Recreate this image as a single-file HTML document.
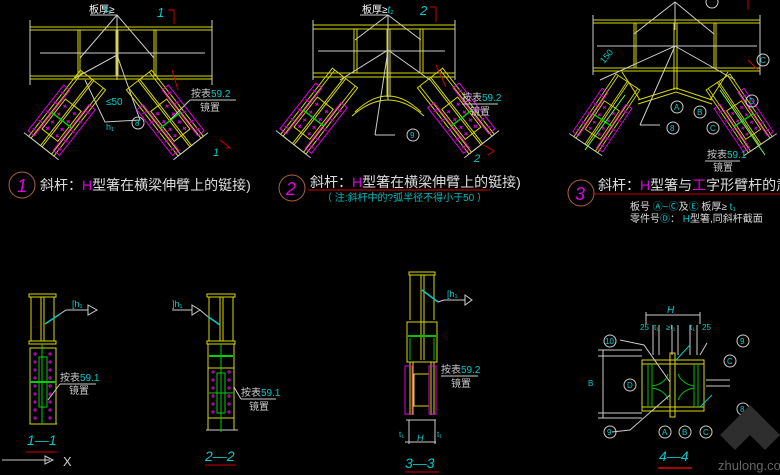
<!DOCTYPE html>
<html><head><meta charset="utf-8"><style>
html,body{margin:0;padding:0;background:#000;width:780px;height:475px;overflow:hidden}
svg{display:block}
text{font-family:"Liberation Sans","Noto Sans CJK SC",sans-serif}
</style></head><body>
<svg width="780" height="475" viewBox="0 0 780 475" xmlns="http://www.w3.org/2000/svg">
<defs>
<g id="brace">
 <rect x="0" y="-16" width="84" height="32" fill="none" stroke="#d8d800" stroke-width="1"/>
 <line x1="0" y1="-13" x2="84" y2="-13" stroke="#d8d800"/>
 <line x1="0" y1="13" x2="84" y2="13" stroke="#d8d800"/>
 <line x1="0" y1="-1" x2="84" y2="-1" stroke="#d8d800"/>
 <line x1="0" y1="1" x2="84" y2="1" stroke="#d8d800"/>
 <rect x="22" y="-20" width="58" height="8" fill="none" stroke="#e000e0"/>
 <rect x="22" y="12" width="58" height="8" fill="none" stroke="#e000e0"/>
 <rect x="32" y="-10" width="38" height="20" fill="none" stroke="#d8d800"/>
 <line x1="51" y1="-13" x2="51" y2="13" stroke="#00d000" stroke-width="1.5"/>
 <g stroke="#e000e0" stroke-width="1">
  <path d="M36 -6h4M38 -8v4M46 -6h4M48 -8v4M56 -6h4M58 -8v4M64 -6h4M66 -8v4M36 6h4M38 4v4M46 6h4M48 4v4M56 6h4M58 4v4M64 6h4M66 4v4"/>
  <path d="M27 -16h4M29 -18v4M39 -16h4M41 -18v4M51 -16h4M53 -18v4M63 -16h4M65 -18v4M73 -16h4M75 -18v4M27 16h4M29 14v4M39 16h4M41 14v4M51 16h4M53 14v4M63 16h4M65 14v4M73 16h4M75 14v4"/>
 </g>
 <line x1="84" y1="-22" x2="84" y2="22" stroke="#ccc"/>
</g>
</defs>

<!-- PANEL 1 -->
<g stroke="#d8d800" fill="none">
 <line x1="30" y1="27" x2="212" y2="27"/><line x1="30" y1="30" x2="212" y2="30"/>
 <line x1="30" y1="76" x2="212" y2="76"/><line x1="30" y1="79" x2="212" y2="79"/>
 <line x1="78" y1="30" x2="78" y2="76"/><line x1="80" y1="30" x2="80" y2="76"/>
 <line x1="116" y1="30" x2="116" y2="76"/><line x1="118" y1="30" x2="118" y2="76"/>
 <line x1="154" y1="30" x2="154" y2="76"/><line x1="156" y1="30" x2="156" y2="76"/>
</g>
<g stroke="#ccc" fill="none">
 <line x1="40" y1="53" x2="205" y2="53"/><line x1="30" y1="20" x2="30" y2="85"/><line x1="212" y1="20" x2="212" y2="85"/>
 <path d="M80 58 L117 15 L154 58 M117 15 L117 80 M75 78 L117 55 L140 120 L105 122 L85 80"/>
 <line x1="90" y1="15" x2="117" y2="15"/>
</g>
<use href="#brace" transform="translate(93,80) rotate(128)"/>
<use href="#brace" transform="translate(139,80) rotate(52)"/>
<text x="89" y="13" fill="#fff" font-size="10">板厚≥</text><text x="105" y="13" fill="#0cc" font-size="10" font-style="italic">  t₁</text>
<text x="157" y="17" fill="#0cc" font-size="13" font-style="italic">1</text>
<path d="M168 10h6v14M172 70l6 20M220 140l10 8h-4" stroke="#c00" fill="none"/>
<text x="106" y="105" fill="#0cc" font-size="10">≤50</text>
<text x="106" y="130" fill="#0cc" font-size="9">h₁</text>
<circle cx="138" cy="123" r="6" fill="none" stroke="#ccc"/><text x="135" y="126" fill="#0cc" font-size="8">8</text>
<text x="191" y="97" fill="#ccc" font-size="10">按表<tspan fill="#0cc">59.2</tspan></text>
<text x="200" y="111" fill="#ccc" font-size="10">镜置</text>
<line x1="190" y1="100" x2="236" y2="100" stroke="#ccc"/><line x1="190" y1="100" x2="170" y2="120" stroke="#ccc"/>
<text x="213" y="156" fill="#0cc" font-size="11" font-style="italic">1</text>
<circle cx="22" cy="185" r="13" fill="none" stroke="#b06040"/>
<text x="17" y="192" fill="#e000e0" font-size="18" font-style="italic">1</text>
<text x="40" y="190" fill="#ddd" font-size="14">斜杆：<tspan fill="#e000e0">H</tspan>型箸在横梁伸臂上的铤接)</text>

<!-- PANEL 2 -->
<g stroke="#d8d800" fill="none">
 <line x1="313" y1="25" x2="455" y2="25"/><line x1="313" y1="29" x2="455" y2="29"/>
 <line x1="313" y1="73" x2="455" y2="73"/><line x1="313" y1="77" x2="455" y2="77"/>
 <line x1="354" y1="29" x2="354" y2="73"/><line x1="357" y1="29" x2="357" y2="73"/>
 <line x1="387" y1="29" x2="387" y2="97"/><line x1="390" y1="29" x2="390" y2="97"/>
 <line x1="420" y1="29" x2="420" y2="73"/><line x1="423" y1="29" x2="423" y2="73"/>
 <path d="M355 112 Q388 80 421 112 M352 116 Q388 84 424 116"/>
</g>
<g stroke="#ccc" fill="none">
 <line x1="318" y1="51" x2="445" y2="51"/><line x1="313" y1="20" x2="313" y2="80"/><line x1="455" y1="20" x2="455" y2="80"/>
 <path d="M355 40 L388 15 L421 40 M388 15 L388 100 M340 80 L388 50 L430 80 M375 135 L388 50 M375 135 L395 135"/>
 <line x1="360" y1="15" x2="388" y2="15"/>
</g>
<use href="#brace" transform="translate(345,78) rotate(128)"/>
<use href="#brace" transform="translate(430,78) rotate(52)"/>
<text x="362" y="13" fill="#fff" font-size="10">板厚≥<tspan fill="#0cc" font-style="italic">t₁</tspan></text>
<text x="420" y="15" fill="#0cc" font-size="13" font-style="italic">2</text>
<path d="M430 7h6v15M436 65l10 22M484 145l10 6-6 4" stroke="#c00" fill="none"/>
<circle cx="413" cy="135" r="6" fill="none" stroke="#ccc"/><text x="410" y="138" fill="#0cc" font-size="8">9</text>
<text x="462" y="101" fill="#ccc" font-size="10">按表<tspan fill="#0cc">59.2</tspan></text>
<text x="470" y="115" fill="#ccc" font-size="10">镜置</text>
<line x1="462" y1="104" x2="498" y2="104" stroke="#ccc"/>
<text x="474" y="162" fill="#0cc" font-size="11" font-style="italic">2</text>
<circle cx="292" cy="188" r="13" fill="none" stroke="#b06040"/>
<text x="286" y="195" fill="#e000e0" font-size="18" font-style="italic">2</text>
<text x="310" y="187" fill="#ddd" font-size="14">斜杆：<tspan fill="#e000e0">H</tspan>型箸在横梁伸臂上的铤接)</text>
<line x1="308" y1="190" x2="490" y2="190" stroke="#c00"/>
<text x="322" y="201" fill="#0bb" font-size="10">（ 注:斜杆中的?弧半径不得小于50 ）</text>

<!-- PANEL 3 -->
<g stroke="#d8d800" fill="none">
 <line x1="593" y1="20" x2="760" y2="20"/><line x1="593" y1="23" x2="760" y2="23"/>
 <line x1="593" y1="68" x2="760" y2="68"/><line x1="593" y1="71" x2="760" y2="71"/>
 <line x1="634" y1="23" x2="634" y2="68"/><line x1="636" y1="23" x2="636" y2="68"/>
 <line x1="674" y1="23" x2="674" y2="90"/><line x1="677" y1="23" x2="677" y2="90"/>
 <line x1="714" y1="23" x2="714" y2="68"/><line x1="716" y1="23" x2="716" y2="68"/>
 <path d="M638 100 L676 88 L712 100 M638 104 L676 92 L712 104 M622 72 L640 100 M728 72 L710 100"/>
</g>
<g stroke="#ccc" fill="none">
 <line x1="597" y1="46" x2="757" y2="46"/><line x1="593" y1="15" x2="593" y2="75"/><line x1="760" y1="15" x2="760" y2="75"/>
 <path d="M634 34 L675 2 L714 34 M675 2 L675 30 M600 80 L675 46 L735 80 M640 125 L675 46 M640 125 L660 125"/>
</g>
<use href="#brace" transform="translate(628,82) rotate(124) scale(0.9)"/>
<use href="#brace" transform="translate(718,82) rotate(56) scale(0.9)"/>
<line x1="585" y1="150" x2="625" y2="95" stroke="#60ff60"/><line x1="720" y1="90" x2="765" y2="155" stroke="#60ff60"/>
<g fill="none" stroke="#ccc"><circle cx="677" cy="107" r="6"/><circle cx="700" cy="112" r="6"/><circle cx="713" cy="128" r="6"/><circle cx="752" cy="101" r="6"/><circle cx="763" cy="60" r="6"/><circle cx="673" cy="128" r="6"/><circle cx="712" cy="2" r="6"/></g>
<g fill="#0cc" font-size="8"><text x="674" y="110">A</text><text x="697" y="115">B</text><text x="710" y="131">C</text><text x="749" y="104">D</text><text x="760" y="63">C</text><text x="670" y="131">8</text></g>
<text x="707" y="158" fill="#ccc" font-size="10">按表<tspan fill="#0cc">59.1</tspan></text>
<text x="713" y="171" fill="#ccc" font-size="10">镜置</text>
<line x1="705" y1="161" x2="740" y2="161" stroke="#ccc"/>
<text x="604" y="64" fill="#0cc" font-size="9" transform="rotate(-50 604 64)">150</text>
<path d="M748 0v10M748 60l10 10" stroke="#c00" fill="none"/>
<circle cx="581" cy="193" r="13" fill="none" stroke="#b06040"/>
<text x="575" y="200" fill="#e000e0" font-size="18" font-style="italic">3</text>
<text x="598" y="190" fill="#ddd" font-size="14">斜杆：<tspan fill="#e000e0">H</tspan>型箸与<tspan fill="#e000e0">工</tspan>字形臂杆的肃b鉦接</text>
<line x1="594" y1="194" x2="780" y2="194" stroke="#c00"/>
<text x="630" y="210" fill="#ddd" font-size="10">板号 <tspan fill="#0cc">Ⓐ~Ⓒ</tspan>及<tspan fill="#0cc">Ⓔ</tspan> 板厚≥ <tspan fill="#0cc">t₁</tspan></text>
<text x="630" y="222" fill="#ddd" font-size="10">零件号<tspan fill="#0cc">Ⓓ</tspan>： <tspan fill="#0cc">H</tspan>型箸,同斜杆截面</text>

<!-- SECTION 1-1 -->
<g stroke="#d8d800" fill="none">
 <rect x="29" y="294" width="27" height="3"/><rect x="29" y="341" width="27" height="3"/>
 <line x1="31" y1="297" x2="31" y2="341"/><line x1="54" y1="297" x2="54" y2="341"/>
 <line x1="41" y1="297" x2="41" y2="341"/><line x1="44" y1="297" x2="44" y2="341"/>
 <rect x="30" y="348" width="26" height="76"/><line x1="30" y1="424" x2="57" y2="424"/>
</g>
<line x1="42" y1="344" x2="42" y2="424" stroke="#00d000"/><line x1="30" y1="382" x2="56" y2="382" stroke="#00d000" stroke-width="2"/>
<rect x="39" y="357" width="8" height="50" fill="none" stroke="#00d000"/>
<g stroke="#e000e0"><path d="M33 354h4M35 352v4M48 354h4M50 352v4M33 362h4M35 360v4M48 362h4M50 360v4M33 370h4M35 368v4M48 370h4M50 368v4M33 378h4M35 376v4M48 378h4M50 376v4M33 386h4M35 384v4M48 386h4M50 384v4M33 394h4M35 392v4M48 394h4M50 392v4M33 402h4M35 400v4M48 402h4M50 400v4M33 410h4M35 408v4M48 410h4M50 408v4M33 418h4M35 416v4M48 418h4M50 416v4"/></g>
<line x1="45" y1="324" x2="60" y2="314" stroke="#0cc" stroke-width="1.5"/>
<path d="M60 314 L66 310 L88 310 M88 305 L97 310 L88 315Z" stroke="#ccc" fill="none"/>
<text x="72" y="307" fill="#0cc" font-size="9">[h₁</text>
<text x="60" y="381" fill="#ccc" font-size="10">按表<tspan fill="#0cc">59.1</tspan></text>
<text x="69" y="394" fill="#ccc" font-size="10">镜置</text>
<line x1="60" y1="384" x2="96" y2="384" stroke="#ccc"/><line x1="60" y1="384" x2="48" y2="400" stroke="#ccc"/>
<text x="27" y="445" fill="#0cc" font-size="14" font-style="italic">1—1</text>
<line x1="26" y1="452" x2="57" y2="452" stroke="#c00"/>
<path d="M2 460H50M45 456l8 4-8 4z" stroke="#ccc" fill="none"/><text x="63" y="466" fill="#ccc" font-size="13">X</text>

<!-- SECTION 2-2 -->
<g stroke="#d8d800" fill="none">
 <rect x="207" y="294" width="28" height="3"/><rect x="207" y="341" width="28" height="3"/>
 <line x1="209" y1="297" x2="209" y2="341"/><line x1="233" y1="297" x2="233" y2="341"/>
 <line x1="220" y1="297" x2="220" y2="341"/><line x1="223" y1="297" x2="223" y2="341"/>
 <rect x="208" y="344" width="26" height="86"/><line x1="208" y1="368" x2="234" y2="368"/><line x1="208" y1="418" x2="234" y2="418"/>
 <line x1="206" y1="430" x2="238" y2="430" stroke="#ccc"/>
</g>
<line x1="221" y1="344" x2="221" y2="432" stroke="#00d000"/><line x1="209" y1="356" x2="233" y2="356" stroke="#00d000" stroke-width="2"/><line x1="209" y1="393" x2="233" y2="393" stroke="#00d000"/>
<rect x="217" y="373" width="8" height="40" fill="none" stroke="#00d000"/>
<g stroke="#e000e0"><path d="M211 372h4M213 370v4M227 372h4M229 370v4M211 380h4M213 378v4M227 380h4M229 378v4M211 388h4M213 386v4M227 388h4M229 386v4M211 396h4M213 394v4M227 396h4M229 394v4M211 404h4M213 402v4M227 404h4M229 402v4M211 412h4M213 410v4M227 412h4M229 410v4"/></g>
<line x1="207" y1="316" x2="220" y2="325" stroke="#0cc" stroke-width="1.5"/>
<path d="M172 310 L192 310 M192 305 L200 310 L192 315Z M200 310 L207 316" stroke="#ccc" fill="none"/>
<text x="172" y="307" fill="#0cc" font-size="9">]h₁</text>
<text x="241" y="396" fill="#ccc" font-size="10">按表<tspan fill="#0cc">59.1</tspan></text>
<text x="249" y="410" fill="#ccc" font-size="10">镜置</text>
<line x1="241" y1="399" x2="276" y2="399" stroke="#ccc"/><line x1="241" y1="399" x2="234" y2="387" stroke="#ccc"/>
<text x="205" y="461" fill="#0cc" font-size="14" font-style="italic">2—2</text>
<line x1="205" y1="465" x2="236" y2="465" stroke="#c00"/>

<!-- SECTION 3-3 -->
<g stroke="#d8d800" fill="none">
 <rect x="409" y="272" width="26" height="3"/>
 <line x1="410" y1="275" x2="410" y2="320"/><line x1="434" y1="275" x2="434" y2="320"/>
 <line x1="421" y1="275" x2="421" y2="360"/><line x1="424" y1="275" x2="424" y2="360"/>
 <rect x="407" y="322" width="30" height="40"/>
 <line x1="410" y1="362" x2="410" y2="415"/><line x1="413" y1="362" x2="413" y2="415"/>
 <line x1="431" y1="362" x2="431" y2="415"/><line x1="434" y1="362" x2="434" y2="415"/>
 <rect x="414" y="374" width="15" height="32"/>
</g>
<g stroke="#00c000" fill="none"><line x1="408" y1="336" x2="436" y2="336" stroke-width="2"/><line x1="410" y1="338" x2="410" y2="360"/><line x1="434" y1="338" x2="434" y2="360"/></g>
<g stroke="#e000e0" fill="none"><rect x="405" y="366" width="7" height="48"/><rect x="429" y="366" width="7" height="48"/></g>
<line x1="422" y1="290" x2="438" y2="302" stroke="#0cc" stroke-width="1.5"/>
<path d="M438 302 L444 300 L465 300 M465 295 L472 300 L465 305Z" stroke="#ccc" fill="none"/>
<text x="447" y="297" fill="#0cc" font-size="9">[h₁</text>
<text x="441" y="373" fill="#ccc" font-size="10">按表<tspan fill="#0cc">59.2</tspan></text>
<text x="451" y="387" fill="#ccc" font-size="10">镜置</text>
<line x1="441" y1="376" x2="478" y2="376" stroke="#ccc"/>
<path d="M406 420H436M405 442H436M409 420v24M435 420v24" stroke="#ccc" fill="none"/>
<text x="399" y="437" fill="#0cc" font-size="8">t₁</text><text x="437" y="437" fill="#0cc" font-size="8">t₁</text>
<text x="417" y="441" fill="#0cc" font-size="9" font-style="italic">H</text>
<text x="405" y="468" fill="#0cc" font-size="14" font-style="italic">3—3</text>
<line x1="405" y1="472" x2="439" y2="472" stroke="#c00"/>

<!-- SECTION 4-4 -->
<g stroke="#d8d800" fill="none">
 <rect x="642" y="360" width="62" height="51"/>
 <line x1="642" y1="364" x2="704" y2="364"/><line x1="642" y1="407" x2="704" y2="407"/>
 <rect x="670" y="353" width="5" height="64"/>
</g>
<g stroke="#00c000" fill="none">
 <line x1="648" y1="364" x2="648" y2="407"/><line x1="652" y1="364" x2="652" y2="407"/>
 <line x1="694" y1="364" x2="694" y2="407"/><line x1="698" y1="364" x2="698" y2="407"/>
 <path d="M652 386 Q665 384 668 374 M652 388 Q665 390 668 400 M694 386 Q682 384 678 374 M694 388 Q682 390 678 400"/>
</g>
<g stroke="#ccc" fill="none">
 <path d="M646 315H700M646 312v12M700 312v12M653 325v30M659 325v30M672 325v30M678 325v30M690 325v30M697 325v30"/>
 <path d="M598 350H642M598 356H642M598 413H642M598 418H642M603 350v68M706 380H730M706 386H730"/>
 <path d="M620 340L644 345L670 382M707 343L700 355M612 432L630 430L670 395"/>
</g>
<line x1="676" y1="360" x2="690" y2="345" stroke="#0cc"/><line x1="700" y1="407" x2="712" y2="395" stroke="#0cc"/>
<text x="667" y="313" fill="#0cc" font-size="10" font-style="italic">H</text>
<g fill="#0cc" font-size="8"><text x="640" y="330">25</text><text x="654" y="330">t₁</text><text x="666" y="330">≥t₁</text><text x="690" y="330">t₁</text><text x="702" y="330">25</text><text x="588" y="386">B</text></g>
<g fill="none" stroke="#ccc"><circle cx="610" cy="341" r="6"/><circle cx="743" cy="341" r="6"/><circle cx="730" cy="361" r="6"/><circle cx="630" cy="385" r="6"/><circle cx="743" cy="409" r="6"/><circle cx="610" cy="432" r="6"/><circle cx="665" cy="432" r="6"/><circle cx="685" cy="432" r="6"/><circle cx="706" cy="432" r="6"/></g>
<g fill="#0cc" font-size="8"><text x="605" y="344">10</text><text x="740" y="344">9</text><text x="727" y="364">C</text><text x="627" y="388">D</text><text x="740" y="412">8</text><text x="607" y="435">9</text><text x="662" y="435">A</text><text x="682" y="435">B</text><text x="703" y="435">C</text></g>
<text x="659" y="461" fill="#0cc" font-size="14" font-style="italic">4—4</text>
<line x1="658" y1="468" x2="692" y2="468" stroke="#a00" stroke-width="2"/>
<!-- watermark -->
<path d="M750 405 L765 420 L750 435 L735 420Z M735 420 L720 435 L735 450 L750 435Z M765 420 L780 435 L765 450 L750 435Z" fill="#2e2e2e"/>
<text x="718" y="470" fill="#666" font-size="13">zhulong.com</text>
</svg>
</body></html>
